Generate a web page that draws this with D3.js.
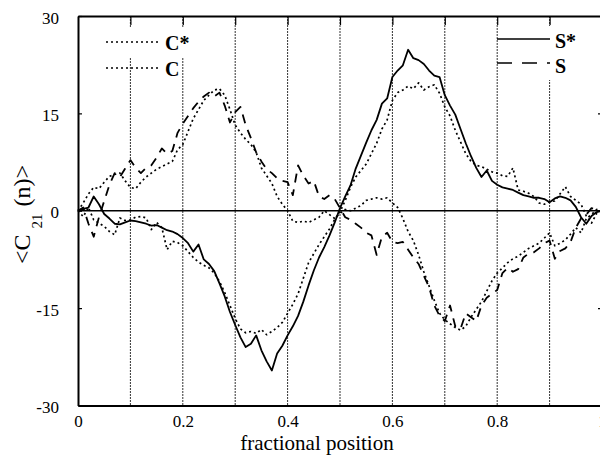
<!DOCTYPE html>
<html>
<head>
<meta charset="utf-8">
<script src="https://cdn.jsdelivr.net/npm/d3@7"></script>
<style>
  body { margin: 0; background: #fff; }
</style>
</head>
<body>
<script>
// fractional position along the chain
const pos = [
  0, 0.01, 0.02, 0.03, 0.04, 0.05, 0.06, 0.07, 0.08, 0.09,
  0.1, 0.11, 0.12, 0.13, 0.14, 0.15, 0.16, 0.17, 0.18, 0.19,
  0.2, 0.21, 0.22, 0.23, 0.24, 0.25, 0.26, 0.27, 0.28, 0.29,
  0.3, 0.31, 0.32, 0.33, 0.34, 0.35, 0.36, 0.37, 0.38, 0.39,
  0.4, 0.41, 0.42, 0.43, 0.44, 0.45, 0.46, 0.47, 0.48, 0.49,
  0.5, 0.51, 0.52, 0.53, 0.54, 0.55, 0.56, 0.57, 0.58, 0.59,
  0.6, 0.61, 0.62, 0.63, 0.64, 0.65, 0.66, 0.67, 0.68, 0.69,
  0.7, 0.71, 0.72, 0.73, 0.74, 0.75, 0.76, 0.77, 0.78, 0.79,
  0.8, 0.81, 0.82, 0.83, 0.84, 0.85, 0.86, 0.87, 0.88, 0.89,
  0.9, 0.91, 0.92, 0.93, 0.94, 0.95, 0.96, 0.97, 0.98, 0.99, 1
];

// S* (solid)
const sStar = [
  0, 0.3, 0.5, 2.2, 1.0, -0.5, -1.2, -2.0, -2.1, -1.8,
  -1.5, -1.6, -1.8, -2.0, -2.3, -2.2, -2.6, -3.0, -3.2, -3.6,
  -4.2, -5.0, -6.3, -5.2, -7.5, -8.2, -9.3, -11.2, -13.2, -15.6,
  -17.6, -19.5, -21.0, -20.5, -19.2, -21.5, -23.2, -24.6, -22.0, -20.8,
  -19.2, -17.8, -16.2, -14.0, -11.5, -9.2, -7.2, -5.6, -3.8, -1.8,
  0.4, 2.2, 3.9, 6.5, 8.5, 10.5, 12.4, 14.0, 16.5, 17.3,
  20.6, 21.6, 22.4, 24.8, 23.5, 23.2, 22.6, 21.6, 20.8, 20.6,
  17.8, 16.2, 14.8, 12.6, 10.4, 8.4, 6.6, 5.2, 6.2, 4.6,
  4.0, 3.6, 3.4, 3.2, 2.8, 2.4, 2.2, 2.0, 2.0, 1.8,
  1.3, 1.9, 2.2, 2.0, 1.6, 0.6, -1.0, -2.0, -0.8, -0.2, 0
];

// C* (dotted, follows S*)
const cStar = [
  0, -0.9, 0.5, -1.4, -1.9, -2.4, -3.2, -3.7, -1.1, -1.5,
  -1.4, -1.0, -0.9, -1.1, -2.9, -1.8, -2.6, -6.0, -4.7, -4.9,
  -5.4, -6.3, -7.2, -7.9, -8.4, -8.8, -9.6, -10.9, -12.6, -14.6,
  -16.6, -18.2, -18.8, -18.6, -18.9, -18.3, -19.1, -18.6, -18.0, -17.2,
  -15.8, -14.4, -12.8, -10.4, -8.0, -6.6, -5.2, -4.0, -2.8, -1.3,
  -0.2, 1.6, 3.6, 5.2, 6.2, 7.2, 8.8, 10.4, 12.6, 14.0,
  17.0, 18.2, 18.6, 19.2, 18.8, 19.7, 18.6, 19.1, 19.4, 18.1,
  16.0, 14.6, 12.4, 10.6, 8.8, 7.6, 7.0, 6.8, 6.4, 6.0,
  5.8, 5.4, 5.3, 6.6, 3.2, 3.0, 2.7, 2.2, 1.2, 1.0,
  1.4, 1.5, 2.6, 3.7, 2.2, 1.6, 1.0, -0.8, -1.9, -0.4, 0
];

// S (dashed)
const sPlain = [
  0, 0.5, -2.0, -4.0, -1.0, 1.5, 4.0, 5.8, 5.2, 6.5,
  7.8, 6.6, 5.8, 6.6, 7.0, 8.2, 9.6, 8.8, 9.2, 12.0,
  13.4, 14.6, 15.8, 16.8, 17.6, 18.2, 17.6, 18.2, 16.2, 13.6,
  15.2, 16.0, 13.2, 11.2, 9.0, 7.6, 6.4, 5.8, 5.0, 4.6,
  4.4, 2.4, 7.0, 5.4, 4.2, 4.6, 2.2, 1.8, 2.4, 1.8,
  0.4, -1.0, -1.4, -2.0, -2.6, -3.4, -3.8, -6.8, -4.0, -3.4,
  -4.8, -5.0, -4.8, -6.0, -7.2, -8.2, -10.0, -11.8, -14.6, -16.2,
  -17.0, -14.6, -17.8, -18.2, -15.8, -16.4, -17.0, -14.6, -13.4, -12.8,
  -12.2, -9.6, -8.8, -9.4, -9.0, -7.2, -6.6, -6.4, -5.8, -5.0,
  -4.6, -7.4, -6.2, -5.8, -4.8, -2.6, -1.2, -0.6, 0.4, 0.2, 0
];

// C (dotted, follows S)
const cPlain = [
  0, 1.2, 2.6, 3.6, 3.4, 4.4, 5.3, 5.6, 5.8, 4.6,
  3.6, 3.4, 4.4, 5.2, 5.8, 6.4, 6.8, 7.2, 7.6, 9.4,
  10.2, 12.2, 14.2, 15.6, 17.0, 17.8, 18.6, 18.8, 17.8, 15.6,
  13.2, 12.0, 11.0, 10.2, 9.0, 6.6, 5.4, 4.2, 2.2, 1.0,
  0.0, -1.6, -1.8, -1.6, -1.8, -1.4, -1.0, 0.0, -0.6, -1.2,
  -0.4, 0.2, 0.0, 0.4, 0.8, 1.6, 1.8, 2.0, 1.8, 2.0,
  1.2, 0.5, -1.2, -3.2, -4.6, -6.8, -9.4, -11.6, -13.8, -15.8,
  -16.8, -17.4, -18.0, -18.4, -17.8, -16.4, -15.2, -14.0, -12.4, -10.8,
  -9.6, -8.8, -8.0, -7.4, -7.0, -6.4, -5.8, -5.4, -5.0, -4.2,
  -3.4, -5.4, -5.0, -4.5, -3.6, -2.6, -3.4, -1.2, -0.6, 0.2, 0
];

const xTicks = [0, 0.2, 0.4, 0.6, 0.8, 1];
const gridTicks = [0.1, 0.2, 0.3, 0.4, 0.5, 0.6, 0.7, 0.8, 0.9];
const yTicks = [-30, -15, 0, 15, 30];

const width = 600;
const height = 459;
const serif = "'Liberation Serif', 'DejaVu Serif', serif";

const svg = d3
  .select("body")
  .append("svg")
  .attr("width", width)
  .attr("height", height)
  .style("background", "#fff");

const x = d3.scaleLinear().domain([0, 1]).range([78, 602]);
const y = d3.scaleLinear().domain([-30, 30]).range([405.5, 16]);

// vertical grid lines
svg
  .append("g")
  .selectAll("line")
  .data(gridTicks)
  .join("line")
  .attr("x1", (d) => x(d))
  .attr("x2", (d) => x(d))
  .attr("y1", y(30))
  .attr("y2", y(-30))
  .attr("stroke", "#333")
  .attr("stroke-width", 1)
  .attr("stroke-dasharray", "2,1");

// white patches behind legends (they hide the grid there)
svg.append("rect").attr("x", 100).attr("y", 27).attr("width", 97).attr("height", 31).attr("fill", "#fff");
svg.append("rect").attr("x", 500).attr("y", 26).attr("width", 100).attr("height", 54).attr("fill", "#fff");

// zero line
svg
  .append("line")
  .attr("x1", x(0))
  .attr("x2", x(1))
  .attr("y1", y(0))
  .attr("y2", y(0))
  .attr("stroke", "#000")
  .attr("stroke-width", 1.3);

// axes
const axisLeft = svg
  .append("g")
  .attr("transform", `translate(${x(0)},0)`)
  .call(d3.axisLeft(y).tickValues(yTicks).tickSizeInner(-4).tickSizeOuter(0).tickPadding(19).tickFormat((d) => d));

const axisBottom = svg
  .append("g")
  .attr("transform", `translate(0,${y(-30)})`)
  .call(d3.axisBottom(x).tickValues(xTicks).tickSize(0).tickPadding(9).tickFormat((d) => d));

const axisTop = svg
  .append("g")
  .attr("transform", `translate(0,${y(30)})`)
  .call(d3.axisTop(x).tickValues(gridTicks).tickSizeInner(-9).tickSizeOuter(0).tickFormat(""));

const axisRight = svg
  .append("g")
  .attr("transform", `translate(${x(1)},0)`)
  .call(d3.axisRight(y).tickValues([-15, 15]).tickSizeInner(-4).tickSizeOuter(0).tickFormat(""));

[axisLeft, axisBottom, axisTop, axisRight].forEach((g) => {
  g.select(".domain").attr("stroke", "#000").attr("stroke-width", 2);
  g.selectAll(".tick line").attr("stroke", "#000").attr("stroke-width", 1.2);
  g.selectAll("text")
    .attr("font-family", serif)
    .attr("font-size", 17)
    .attr("fill", "#000");
});
axisLeft.selectAll("text").attr("dy", "0.42em");

// curves
const line = d3
  .line()
  .x((d, i) => x(pos[i]))
  .y((d) => y(d));

const series = [
  { name: "C*", values: cStar, dash: "2,3", w: 1.7 },
  { name: "C", values: cPlain, dash: "2,3", w: 1.7 },
  { name: "S", values: sPlain, dash: "9,7", w: 1.8 },
  { name: "S*", values: sStar, dash: null, w: 1.8 }
];

svg
  .append("g")
  .selectAll("path")
  .data(series)
  .join("path")
  .attr("d", (d) => line(d.values))
  .attr("fill", "none")
  .attr("stroke", "#000")
  .attr("stroke-width", (d) => d.w)
  .attr("stroke-dasharray", (d) => d.dash)
  .attr("stroke-linejoin", "round");

// legends
const legend = [
  { label: "C*", x1: 106, x2: 158, ly: 42, tx: 165, ty: 50, dash: "2,3" },
  { label: "C", x1: 106, x2: 158, ly: 68, tx: 165, ty: 76, dash: "2,3" },
  { label: "S*", x1: 497, x2: 550, ly: 39, tx: 555, ty: 48, dash: null },
  { label: "S", x1: 497, x2: 550, ly: 63, tx: 555, ty: 73, dash: "15,10" }
];

const leg = svg.append("g").selectAll("g").data(legend).join("g");
leg
  .append("line")
  .attr("x1", (d) => d.x1)
  .attr("x2", (d) => d.x2)
  .attr("y1", (d) => d.ly)
  .attr("y2", (d) => d.ly)
  .attr("stroke", "#000")
  .attr("stroke-width", 1.7)
  .attr("stroke-dasharray", (d) => d.dash);
leg
  .append("text")
  .attr("x", (d) => d.tx)
  .attr("y", (d) => d.ty)
  .attr("font-family", serif)
  .attr("font-size", 20)
  .attr("font-weight", "bold")
  .text((d) => d.label);

// axis titles
svg
  .append("text")
  .attr("x", 317)
  .attr("y", 450)
  .attr("text-anchor", "middle")
  .attr("font-family", serif)
  .attr("font-size", 21)
  .text("fractional position");

const yTitle = svg
  .append("text")
  .attr("transform", "translate(30,264) rotate(-90)")
  .attr("text-anchor", "start")
  .attr("font-family", serif)
  .attr("font-size", 24);
yTitle.append("tspan").text("<C");
yTitle.append("tspan").attr("dx", 6).attr("dy", 12).attr("font-size", 15).text("21");
yTitle.append("tspan").attr("dx", 7).attr("dy", -12).text("(n)>");
</script>
</body>
</html>
